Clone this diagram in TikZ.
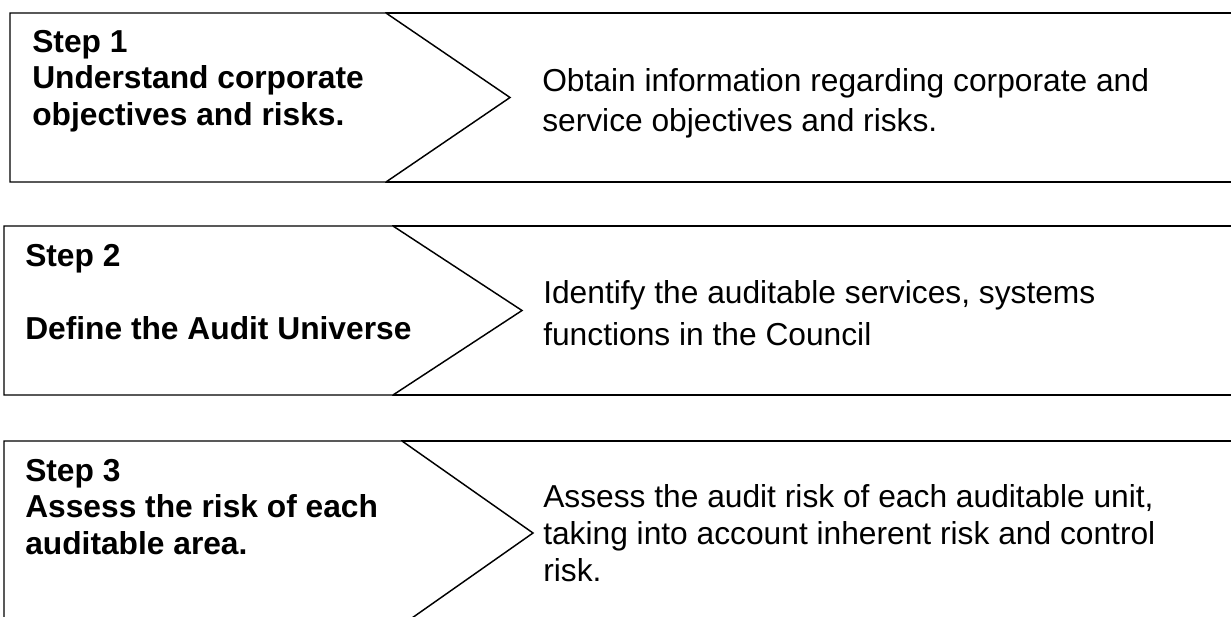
\documentclass[tikz,border=0pt]{standalone}
\usepackage{fontspec}
\setmainfont{Liberation Sans}

\begin{document}
\begin{tikzpicture}[x=0.75pt,y=-0.75pt,
  taskbox/.style={draw,line width=1.5pt},
  stepbox/.style={draw,fill=white,line width=1.1pt,line join=miter},
  steptext/.style={anchor=north west,inner sep=0,align=left,font=\fontsize{23.8}{27.4}\selectfont\bfseries},
  tasktext/.style={anchor=north west,inner sep=0,align=left,font=\fontsize{23.8}{#1}\selectfont}]
\clip (0,0) rectangle (1231,617);
\draw[taskbox] (386,13) rectangle (1240,182);
\draw[stepbox] (10,13) -- (386,13) -- (510,97.5) -- (386,182) -- (10,182) -- cycle;
\node[steptext] (s1) at (32,30) {Step 1\\Understand corporate\\objectives and risks.};
\node[tasktext=30] (t1) at (542,68) {Obtain information regarding corporate and\\service objectives and risks.};

\draw[taskbox] (393,226) rectangle (1240,395);
\draw[stepbox] (4,226) -- (393,226) -- (522,310.5) -- (393,395) -- (4,395) -- cycle;
\node[steptext] (s2) at (25,244) {Step 2\\[27.4pt]Define the Audit Universe};
\node[tasktext=31.5] (t2) at (543,280) {Identify the auditable services, systems\\functions in the Council};

\draw[taskbox] (402,441) rectangle (1240,625);
\draw[stepbox] (4,441) -- (402,441) -- (533,533) -- (402,625) -- (4,625) -- cycle;
\node[steptext] (s3) at (25,459) {Step 3\\Assess the risk of each\\auditable area.};
\node[tasktext=27.7] (t3) at (543,484) {Assess the audit risk of each auditable unit,\\taking into account inherent risk and control\\risk.};
\end{tikzpicture}
\end{document}
